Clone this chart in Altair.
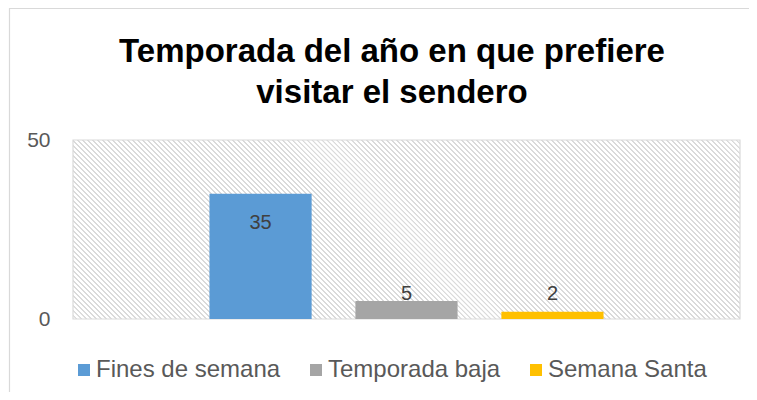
import altair as alt
import pandas as pd

categories = ["Fines de semana", "Temporada baja", "Semana Santa"]
values = [35, 5, 2]
colors = ["#5B9BD5", "#A5A5A5", "#FFC000"]
y_ticks = [0, 50]
title_lines = ["Temporada del año en que prefiere", "visitar el sendero"]

df = pd.DataFrame({"serie": categories, "valor": values})

W, H = 667, 179

# diagonal hatch for the plot background, built as a striped linear gradient
N = 172
stops = []
for k in range(N):
    a = k / N
    stops += [
        {"offset": round(a, 6), "color": "#FFFFFF"},
        {"offset": round(a + 0.58 / N, 6), "color": "#FFFFFF"},
        {"offset": round(a + 0.61 / N, 6), "color": "#DADADA"},
        {"offset": round(a + 0.97 / N, 6), "color": "#DADADA"},
    ]
stops.append({"offset": 1, "color": "#FFFFFF"})
hatch = {"gradient": "linear", "x1": 0, "y1": 1, "x2": 1.2, "y2": 0.678, "stops": stops}

FONT = "Liberation Sans"

one = alt.Data(values=[{}])

backdrop = alt.Chart(one).mark_rect(
    fill=hatch, stroke="#D9D9D9", strokeWidth=1.2
).encode(x=alt.value(0), x2=alt.value(W), y=alt.value(0), y2=alt.value(H))

frame = alt.Chart(one).mark_rect(
    fill=None, stroke="#D9D9D9", strokeWidth=1.2
).encode(
    x=alt.value(-63.5), x2=alt.value(720), y=alt.value(-131.5), y2=alt.value(300)
)

base = alt.Chart(df)

bars = base.mark_bar().encode(
    x=alt.X("serie:N", sort=categories,
            scale=alt.Scale(paddingInner=0.3, paddingOuter=0.935),
            axis=None),
    y=alt.Y("valor:Q", scale=alt.Scale(domain=[0, 50], nice=False),
            axis=alt.Axis(values=y_ticks, title=None, grid=False, domain=False,
                          ticks=False, tickSize=0, labelPadding=23,
                          labelFontSize=21, labelColor="#595959", labelFont=FONT)),
    color=alt.Color("serie:N", sort=categories,
                    scale=alt.Scale(domain=categories, range=colors),
                    legend=alt.Legend(title=None, orient="none", direction="horizontal",
                                      legendX=-1, legendY=218, padding=0,
                                      symbolType="square", symbolSize=144,
                                      symbolStrokeWidth=0, labelFontSize=24,
                                      labelColor="#595959", labelFont=FONT,
                                      labelOffset=0, columnPadding=23, labelLimit=0)),
)

labels = base.transform_calculate(
    pos="datum.valor > 20 ? datum.valor - 8.2 : max(datum.valor, 5) + 1.9"
).mark_text(fontSize=20, color="#404040", font=FONT, baseline="middle").encode(
    x=alt.X("serie:N", sort=categories),
    y=alt.Y("pos:Q"),
    text=alt.Text("valor:Q"),
)

chart = alt.layer(backdrop, frame, bars, labels).properties(
    width=W,
    height=H,
    title=alt.TitleParams(text=title_lines, anchor="middle", frame="group",
                          fontSize=33, font=FONT, fontWeight="bold", color="#000000",
                          baseline="bottom", lineHeight=41, offset=-135, dx=-14.5),
    autosize=alt.AutoSizeParams(type="none"),
    padding={"left": 65, "top": 132, "right": 9, "bottom": 73},
    background="#FFFFFF",
).configure_view(
    stroke=None
)

chart.save("out.html", embed_options={"renderer": "svg", "actions": False})
